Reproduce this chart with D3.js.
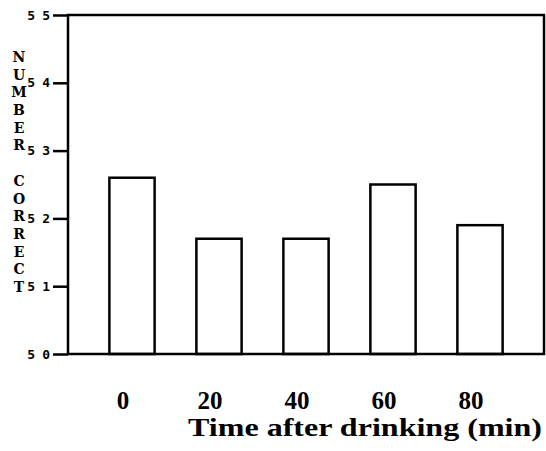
<!DOCTYPE html>
<html lang="en">
<head>
<meta charset="utf-8">
<title>Number correct by time after drinking</title>
<style>
body { margin: 0; background: #fff; }
.yaxis text { font: bold 13px "DejaVu Sans Mono", monospace; letter-spacing: 7px; }
.xaxis text { font: bold 25px "Liberation Serif", serif; }
.ytitle { font: bold 14px "DejaVu Serif", serif; }
.xtitle { font: bold 25px "Liberation Serif", serif; }
</style>
</head>
<body>
<svg width="546" height="451"></svg>

<script src="https://cdn.jsdelivr.net/npm/d3@7"></script>
<script>

// data
const times = ['0', '20', '40', '60', '80'];
const scores = [52.6, 51.7, 51.7, 52.5, 51.9];
const yTicks = [50, 51, 52, 53, 54, 55];
const yTitle = 'NUMBER CORRECT';
const xTitle = 'Time after drinking (min)';

const svg = d3.select('svg');

// plot frame (window.top is taken, so prefix these)
const plotLeft = 68, plotRight = 544, plotTop = 15, plotBottom = 354;

let y = d3.scaleLinear().domain([50, 55]).range([plotBottom, plotTop]);
let x = d3.scaleBand().domain(times).range([88.5, 523.5])
  .paddingInner(0.48).paddingOuter(0.24);

// bars
svg.append('g')
  .selectAll('rect')
  .data(times.map((t, i) => ({t: t, v: scores[i]})))
  .enter().append('rect')
    .attr('x', d => x(d.t))
    .attr('y', d => y(d.v))
    .attr('width', x.bandwidth())
    .attr('height', d => plotBottom - y(d.v))
    .attr('fill', '#fff')
    .attr('stroke', '#000')
    .attr('stroke-width', 2.5);

// frame
svg.append('rect')
  .attr('x', plotLeft).attr('y', plotTop)
  .attr('width', plotRight - plotLeft).attr('height', plotBottom - plotTop)
  .attr('fill', 'none')
  .attr('stroke', '#000')
  .attr('stroke-width', 2.5);

// y axis, ticks sticking out left
let yAxis = svg.append('g')
  .attr('class', 'yaxis')
  .attr('transform', 'translate(' + plotLeft + ',0)')
  .call(d3.axisLeft(y).tickValues(yTicks).tickFormat(d3.format('d'))
    .tickSize(15).tickSizeOuter(0).tickPadding(3));
yAxis.select('.domain').remove();
yAxis.selectAll('line').attr('stroke-width', 2.5);
// letter-spacing pads the end too, push it back
yAxis.selectAll('text').attr('fill', '#000').attr('dx', 7);

// y title, one letter per line
svg.append('g')
  .selectAll('text')
  .data(yTitle.split(''))
  .enter().append('text')
    .attr('class', 'ytitle')
    .attr('x', 19)
    .attr('y', (d, i) => 57 + i * 17.7)
    .attr('dy', '0.35em')
    .attr('text-anchor', 'middle')
    .text(d => d);

// x axis labels (scan has them sitting a bit left of the bars)
let xAxis = svg.append('g')
  .attr('class', 'xaxis')
  .attr('transform', 'translate(-9,409)')
  .call(d3.axisBottom(x).tickSize(0));
xAxis.select('.domain').remove();
xAxis.selectAll('text').attr('y', 0).attr('dy', 0).attr('fill', '#000');

svg.append('text')
  .attr('class', 'xtitle')
  .attr('x', 365)
  .attr('y', 436)
  .attr('text-anchor', 'middle')
  .attr('textLength', 354)
  .attr('lengthAdjust', 'spacingAndGlyphs')
  .text(xTitle);

</script>
</body>
</html>
